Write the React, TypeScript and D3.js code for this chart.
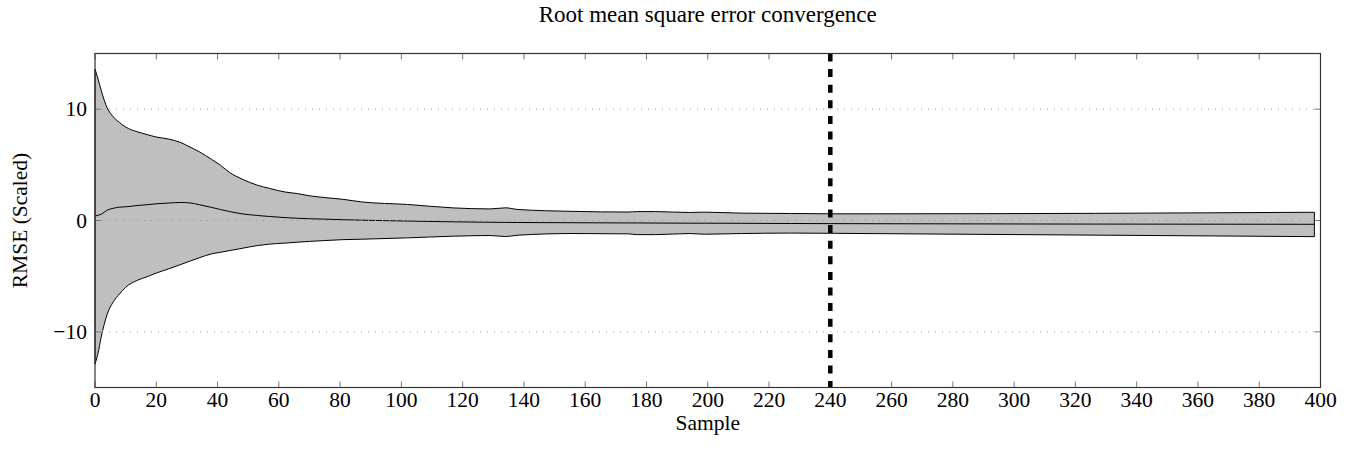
import React from "react";
import * as d3 from "d3";

const sampleX = [0, 1, 2, 4, 6, 8, 10, 14, 17, 20, 24, 28, 31, 34, 38, 41, 44, 48, 53, 57, 62, 66, 70, 75, 81, 87, 102, 117, 129, 134, 138, 156, 174, 177, 183, 194, 199, 211, 227, 240, 255, 398];

// mean + std (upper edge of band)
const upperRmse = [13.6, 12.7, 11.7, 10.1, 9.3, 8.8, 8.4, 7.95, 7.72, 7.5, 7.32, 7.0, 6.6, 6.18, 5.5, 4.95, 4.3, 3.72, 3.17, 2.88, 2.56, 2.42, 2.22, 2.06, 1.9, 1.67, 1.44, 1.13, 1.04, 1.14, 0.99, 0.82, 0.76, 0.8, 0.8, 0.72, 0.75, 0.66, 0.63, 0.6, 0.6, 0.74];

// mean
const meanRmse = [0.4, 0.47, 0.56, 0.93, 1.1, 1.2, 1.23, 1.35, 1.42, 1.5, 1.57, 1.62, 1.58, 1.42, 1.18, 0.98, 0.8, 0.6, 0.45, 0.36, 0.26, 0.2, 0.16, 0.12, 0.07, 0.03, -0.05, -0.12, -0.16, -0.17, -0.18, -0.2, -0.22, -0.22, -0.23, -0.24, -0.24, -0.25, -0.27, -0.28, -0.29, -0.34];

// mean - std (lower edge of band)
const lowerRmse = [-12.9, -11.9, -10.5, -8.4, -7.3, -6.6, -6.0, -5.35, -5.05, -4.72, -4.35, -3.95, -3.65, -3.35, -3.0, -2.85, -2.7, -2.5, -2.25, -2.12, -2.03, -1.95, -1.88, -1.8, -1.72, -1.68, -1.56, -1.41, -1.35, -1.44, -1.32, -1.17, -1.2, -1.27, -1.27, -1.17, -1.23, -1.17, -1.13, -1.15, -1.18, -1.45];

const xTicks = [0, 20, 40, 60, 80, 100, 120, 140, 160, 180, 200, 220, 240, 260, 280, 300, 320, 340, 360, 380, 400];
const yTicks = [-10, 0, 10];
const convergedAt = 240;

const width = 1350;
const height = 453;
const margin = { top: 53.5, right: 29.5, bottom: 65.5, left: 95 };
const font = "'Liberation Serif', 'Times New Roman', serif";
const fs = 21.5;

export default function App() {
    const xScale = d3.scaleLinear().domain([0, 400]).range([margin.left, width - margin.right]);
    const yScale = d3.scaleLinear().domain([-15, 15]).range([height - margin.bottom, margin.top]);

    const rows = sampleX.map((x, i) => ({ x, hi: upperRmse[i], mid: meanRmse[i], lo: lowerRmse[i] }));

    const band = d3
        .area<any>()
        .x((d) => xScale(d.x))
        .y0((d) => yScale(d.lo))
        .y1((d) => yScale(d.hi))
        .curve(d3.curveMonotoneX);
    const midLine = d3
        .line<any>()
        .x((d) => xScale(d.x))
        .y((d) => yScale(d.mid))
        .curve(d3.curveMonotoneX);

    const x0 = margin.left;
    const x1 = width - margin.right;
    const y0 = margin.top;
    const y1 = height - margin.bottom;

    return (
        <svg width={width} height={height} style={{ position: "absolute", left: 0, top: 0, background: "#fff" }} fontFamily={font}>
            <text x={(x0 + x1) / 2} y={22} textAnchor="middle" fontSize={23}>
                Root mean square error convergence
            </text>

            {/* band + mean */}
            <path d={(band(rows) || "") + "Z"} fill="#bfbfbf" stroke="#000" strokeWidth={1} />
            <path d={midLine(rows) || ""} fill="none" stroke="#000" strokeWidth={1} />

            {/* dotted grid */}
            {yTicks.map((t) => (
                <line key={"g" + t} x1={x0} x2={x1} y1={yScale(t)} y2={yScale(t)} stroke="#999" strokeWidth={1} strokeDasharray="1 6" />
            ))}

            {/* ticks */}
            {xTicks.map((t) => (
                <g key={"xt" + t} stroke="#777" strokeWidth={1}>
                    <line x1={xScale(t)} x2={xScale(t)} y1={y1} y2={y1 - 6} />
                    <line x1={xScale(t)} x2={xScale(t)} y1={y0} y2={y0 + 6} />
                </g>
            ))}
            {yTicks.map((t) => (
                <g key={"yt" + t} stroke="#777" strokeWidth={1}>
                    <line x1={x0} x2={x0 + 6} y1={yScale(t)} y2={yScale(t)} />
                    <line x1={x1} x2={x1 - 6} y1={yScale(t)} y2={yScale(t)} />
                </g>
            ))}

            {/* converged marker */}
            <line x1={xScale(convergedAt)} x2={xScale(convergedAt)} y1={y0} y2={y1} stroke="#000" strokeWidth={4.5} strokeDasharray="8 7.6" />

            <rect x={x0} y={y0} width={x1 - x0} height={y1 - y0} fill="none" stroke="#333" strokeWidth={1.2} />

            {/* tick labels */}
            {xTicks.map((t) => (
                <text key={"xl" + t} x={xScale(t)} y={y1 + 19} textAnchor="middle" fontSize={fs}>
                    {t}
                </text>
            ))}
            {yTicks.map((t) => (
                <text key={"yl" + t} x={x0 - 8} y={yScale(t) + 7} textAnchor="end" fontSize={fs}>
                    {t < 0 ? "\u2212" + Math.abs(t) : t}
                </text>
            ))}

            <text x={(x0 + x1) / 2} y={y1 + 42} textAnchor="middle" fontSize={fs}>
                Sample
            </text>
            <text transform={`translate(27, ${(y0 + y1) / 2}) rotate(-90)`} textAnchor="middle" fontSize={fs}>
                RMSE (Scaled)
            </text>
        </svg>
    );
}
